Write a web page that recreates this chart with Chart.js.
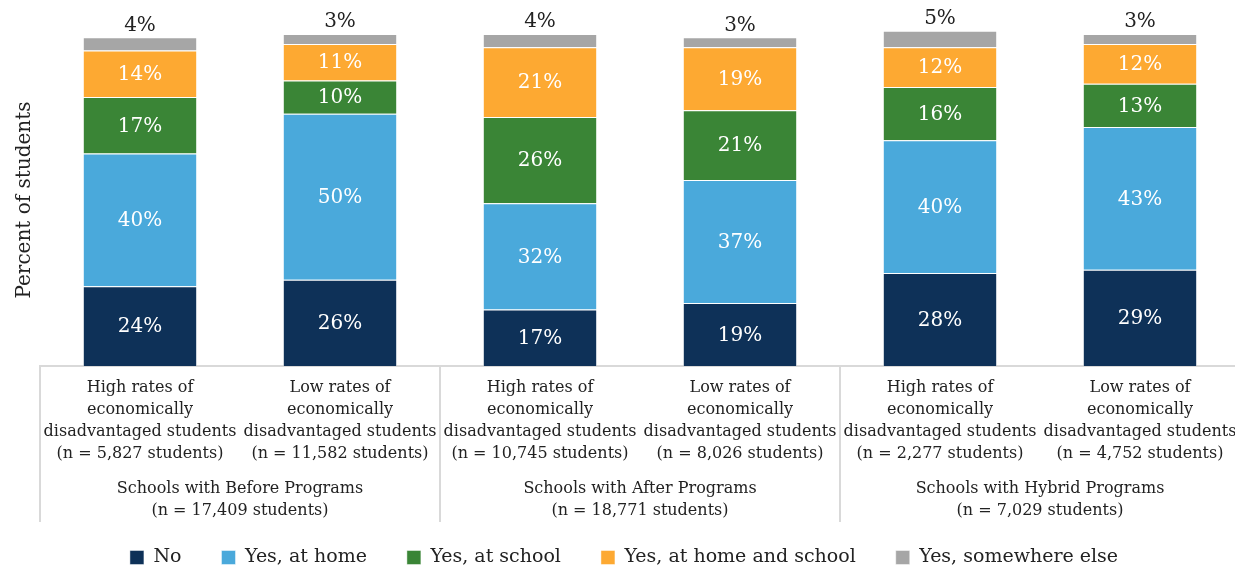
<!DOCTYPE html>
<html>
<head>
<meta charset="utf-8">
<script src="https://cdn.jsdelivr.net/npm/chart.js@4.4.1/dist/chart.umd.min.js"></script>
<style>
  html, body { margin: 0; padding: 0; background: #fff; overflow: hidden; }
  #wrap { width: 1240px; height: 569px; }
</style>
</head>
<body>
<div id="wrap"><canvas id="chart"></canvas></div>
<script>
// category labels (one per bar, multi-line)
const categories = [
    ["High rates of", "economically", "disadvantaged students", "(n = 5,827 students)"],
    ["Low rates of", "economically", "disadvantaged students", "(n = 11,582 students)"],
    ["High rates of", "economically", "disadvantaged students", "(n = 10,745 students)"],
    ["Low rates of", "economically", "disadvantaged students", "(n = 8,026 students)"],
    ["High rates of", "economically", "disadvantaged students", "(n = 2,277 students)"],
    ["Low rates of", "economically", "disadvantaged students", "(n = 4,752 students)"]
];

// program groups, two bars each
const groups = [
    ["Schools with Before Programs", "(n = 17,409 students)"],
    ["Schools with After Programs", "(n = 18,771 students)"],
    ["Schools with Hybrid Programs", "(n = 7,029 students)"]
];

const seriesNames = ["No", "Yes, at home", "Yes, at school", "Yes, at home and school", "Yes, somewhere else"];

const noValues = [24, 26, 17, 19, 28, 29];
const homeValues = [40, 50, 32, 37, 40, 43];
const schoolValues = [17, 10, 26, 21, 16, 13];
const bothValues = [14, 11, 21, 19, 12, 12];
const elseValues = [4, 3, 4, 3, 5, 3];

const colors = ["#0e3158", "#4aa9db", "#3a8536", "#fda932", "#a6a6a6"];
const FONT = "DejaVu Serif";
const TEXT = "#222222";
const LEGEND_GAP = 40;

// percent labels: white inside the bars, the top segment gets its label above
const valueLabels = {
    id: "valueLabels",
    afterDatasetsDraw(chart) {
        const ctx = chart.ctx;
        ctx.save();
        ctx.font = "20px '" + FONT + "'";
        ctx.textAlign = "center";
        ctx.textBaseline = "middle";
        chart.data.datasets.forEach((ds, i) => {
            const meta = chart.getDatasetMeta(i);
            const last = i === chart.data.datasets.length - 1;
            meta.data.forEach((bar, j) => {
                const text = ds.data[j] + "%";
                if (last) {
                    ctx.fillStyle = TEXT;
                    ctx.fillText(text, bar.x, bar.y - 12);
                } else {
                    ctx.fillStyle = "#ffffff";
                    ctx.fillText(text, bar.x, (bar.y + bar.base) / 2 + 1);
                }
            });
        });
        ctx.restore();
    }
};

// group captions under the category labels plus the separator lines
const groupAxis = {
    id: "groupAxis",
    afterDraw(chart) {
        const ctx = chart.ctx;
        const x = chart.scales.x;
        const step = (x.right - x.left) / categories.length;
        ctx.save();
        ctx.strokeStyle = "#d9d9d9";
        ctx.lineWidth = 2;
        groups.forEach((g, k) => {
            const left = x.getPixelForValue(k * 2) - step / 2;
            ctx.beginPath();
            ctx.moveTo(left, x.top);
            ctx.lineTo(left, x.top + 156);
            ctx.stroke();
        });
        ctx.font = "16px '" + FONT + "'";
        ctx.fillStyle = TEXT;
        ctx.textAlign = "center";
        ctx.textBaseline = "middle";
        groups.forEach((g, k) => {
            const cx = (x.getPixelForValue(k * 2) + x.getPixelForValue(k * 2 + 1)) / 2;
            g.forEach((line, n) => {
                ctx.fillText(line, cx, x.top + 123 + n * 22);
            });
        });
        ctx.restore();
    }
};

// push the legend row a little lower than the layout puts it
const legendShift = {
    id: "legendShift",
    afterLayout(chart) {
        chart.legend.top += 8;
        chart.legend.bottom += 8;
    }
};

const valueSets = [noValues, homeValues, schoolValues, bothValues, elseValues];

new Chart(document.getElementById("chart"), {
    type: "bar",
    data: {
        labels: categories,
        datasets: valueSets.map((vals, i) => ({
            label: seriesNames[i],
            data: vals,
            backgroundColor: colors[i],
            borderColor: "rgba(255, 255, 255, 0.45)",
            borderWidth: 1,
            barPercentage: 0.572,
            categoryPercentage: 1,
            clip: false
        }))
    },
    options: {
        responsive: true,
        maintainAspectRatio: false,
        animation: false,
        layout: { padding: { top: 34, left: 8, right: 0, bottom: 0 } },
        scales: {
            x: {
                stacked: true,
                grid: { display: false, drawTicks: false },
                border: { display: true, color: "#d9d9d9", width: 2 },
                ticks: {
                    autoSkip: false,
                    maxRotation: 0,
                    padding: 11,
                    color: TEXT,
                    font: { family: FONT, size: 16, lineHeight: 1.375 }
                },
                afterFit(scale) {
                    scale.height = 174 - LEGEND_GAP;
                    scale.paddingLeft = 0;
                    scale.paddingRight = 0;
                }
            },
            y: {
                stacked: true,
                min: 0,
                max: 100,
                grid: { display: false, drawTicks: false },
                border: { display: false },
                ticks: { display: false },
                title: {
                    display: true,
                    text: "Percent of students",
                    color: TEXT,
                    font: { family: FONT, size: 20 },
                    padding: { top: 5, bottom: 3 }
                }
            }
        },
        plugins: {
            legend: {
                position: "bottom",
                labels: {
                    boxWidth: 14,
                    boxHeight: 14,
                    padding: LEGEND_GAP,
                    color: TEXT,
                    font: { family: FONT, size: 19 }
                }
            },
            tooltip: { enabled: false }
        }
    },
    plugins: [valueLabels, groupAxis, legendShift]
});
</script>
</body>
</html>
